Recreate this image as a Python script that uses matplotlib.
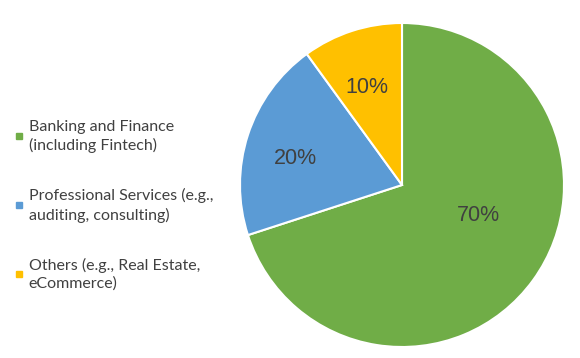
import matplotlib
matplotlib.use("Agg")
import matplotlib.pyplot as plt
from matplotlib.lines import Line2D
import numpy as np

labels = ["Banking and Finance\n(including Fintech)",
          "Professional Services (e.g.,\nauditing, consulting)",
          "Others (e.g., Real Estate,\neCommerce)"]
shares = [70, 20, 10]
colors = ["#70AD47", "#5B9BD5", "#FFC000"]
# where the percentage labels sit (radius fraction, angle shift in degrees)
label_radius = [0.51, 0.68, 0.64]
label_shift = [14, 4, 2]

fig = plt.figure(figsize=(5.8, 3.58), dpi=100)
W, H = 580, 358
cx, cy, r = 402, 185, 162
ax = fig.add_axes([(cx - r) / W, (H - cy - r) / H, 2 * r / W, 2 * r / H])

wedges, texts, autotexts = ax.pie(
    shares, colors=colors, startangle=90, counterclock=False,
    autopct="%d%%", pctdistance=0.6,
    wedgeprops=dict(edgecolor="white", linewidth=1.5),
    textprops=dict(color="#404040", fontsize=15.5, family="Liberation Sans"))
ax.set_aspect("equal")
ax.set_xlim(-1, 1)
ax.set_ylim(-1, 1)

for w, t, rr, sh in zip(wedges, autotexts, label_radius, label_shift):
    ang = np.deg2rad((w.theta1 + w.theta2) / 2 + sh)
    t.set_position((rr * np.cos(ang), rr * np.sin(ang)))

handles = [Line2D([], [], marker="s", linestyle="", markersize=5, color=c) for c in colors]
leg = fig.legend(handles, labels, loc="center left", bbox_to_anchor=(0.0, 0.426),
                 frameon=False, handlelength=0.6, handletextpad=0.3,
                 labelspacing=2.2, prop=dict(family="Lato", size=11.5), labelcolor="#404040")
for t in leg.get_texts():
    t.set_linespacing(1.35)

fig.savefig("out.png", dpi=100)
